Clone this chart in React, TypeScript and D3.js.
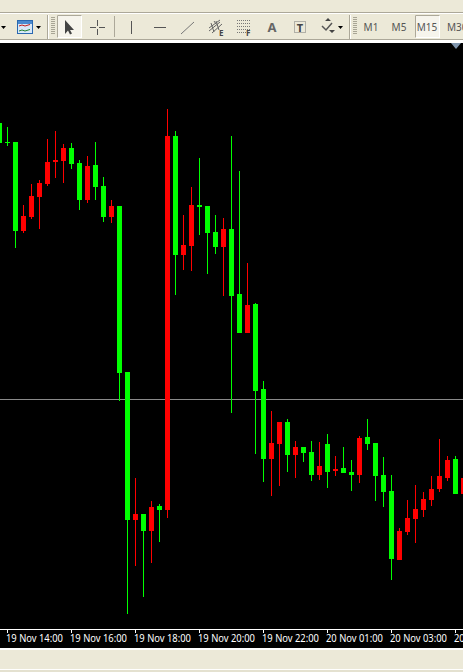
import React from "react";
import * as d3 from "d3";

const W = 463;
const H = 672;

// Price readings in chart units (larger is higher on the chart).
const opens = [549,530,530,441,455,475,488,510,511,524,509,472,507,486,455,466,300,152,158,141,166,162,536,417,426,467,466,440,425,443,378,339,368,283,213,228,250,217,225,220,197,228,201,204,200,197,235,229,197,181,112,140,153,162,172,183,194,213,178];
const closes = [529,529,441,456,476,489,510,512,524,508,472,506,485,455,466,299,152,158,141,165,162,536,417,427,467,465,439,425,443,376,339,367,281,213,229,250,217,225,219,197,206,200,203,199,197,234,228,196,180,113,141,154,163,173,183,196,212,178,194];
const highs = [549,545,530,467,488,492,533,541,528,529,512,516,530,495,472,466,300,194,158,171,168,563,541,457,485,514,466,457,454,536,501,409,369,291,261,250,253,231,225,231,230,238,216,225,212,236,253,229,215,197,144,172,187,180,196,233,216,216,194];
const lows = [529,526,424,439,453,443,486,494,489,503,462,469,472,450,449,271,58,106,75,109,130,154,377,402,401,437,398,418,376,259,339,339,218,190,176,186,200,194,210,191,192,184,196,199,181,189,222,171,165,92,112,137,129,155,166,180,191,178,178];

const axisLabels = ["19 Nov 14:00","19 Nov 16:00","19 Nov 18:00","19 Nov 20:00","19 Nov 22:00","20 Nov 01:00","20 Nov 03:00","20 Nov 05:00"];
const periods = ["M1","M5","M15","M30"];
const periodX = [371,399,427,447];
const bidLevel = 272.5;

const x = d3.scaleLinear().domain([0, 1]).range([-0.5, 7.5]);
const y = d3.scaleLinear().domain([0, 672]).range([672, 0]);
const tickIndex = axisLabels.map((_, k) => 1 + 8 * k);

const UI = "Tahoma, 'Noto Sans', 'DejaVu Sans', sans-serif";
const BG = "#ece9d8";

function Grip({ gx }: { gx: number }) {
  return <g>{d3.range(0, 9).map((i) => <rect key={i} x={gx} y={17 + i * 2} width={4} height={1} fill="#a8a595" />)}</g>;
}

function Toolbar() {
  return (
    <g>
      <rect x={0} y={0} width={W} height={40} fill={BG} />
      <rect x={0} y={12} width={W} height={1} fill="#aca899" />
      <rect x={0} y={13} width={W} height={1} fill="#ffffff" />
      <rect x={0} y={39} width={W} height={1} fill="#aca899" />
      <rect x={0} y={40} width={W} height={3} fill="#ffffff" />
      <path d="M1 26h5l-2.500 3z" fill="#000" />
      <rect x={17.500} y={20.500} width={15} height={13} fill="#d8e8f8" stroke="#2a68b0" />
      <rect x={18} y={21} width={14} height={3} fill="#4a8ad0" />
      <path d="M19 26l3-1 3 1 5-1.500" fill="none" stroke="#c02020" />
      <path d="M19 31l3-1 3 1 5-1.500" fill="none" stroke="#208030" />
      <path d="M36 26h5l-2.500 3z" fill="#000" />
      <rect x={47} y={15} width={1} height={24} fill="#aca899" />
      <rect x={48} y={15} width={1} height={24} fill="#fff" />
      <Grip gx={51} />
      <rect x={57.500} y={15.500} width={24} height={22} fill="#f6f4ec" stroke="#fff" />
      <path d="M57.500 37.500V15.500H81.500" fill="none" stroke="#aca899" />
      <path d="M65 20v14l3-3.500 2 4 2-1-2-3.500h4z" fill="#444" />
      <path d="M90 27.500h6M99 27.500h6M97.500 20v6M97.500 29v6" stroke="#555" />
      <rect x={114} y={16} width={1} height={21} fill="#aca899" />
      <path d="M131.500 21v13" stroke="#555" />
      <path d="M154 27.500h12" stroke="#555" />
      <path d="M181 34l13-12" stroke="#777" />
      <path d="M209 31l11-9M209 28l11-8M212 33l10-9M214 21l2 3M211 23l3 9M216 21l3 9" stroke="#666" fill="none" />
      <text x={219} y={36} fontFamily={UI} fontSize={8} fontWeight={700} fill="#444">E</text>
      <path d="M237 20.500h13M237 23.500h13M237 26.500h13M237 29.500h13M237 32.500h9" stroke="#777" strokeDasharray="1 1" />
      <text x={246} y={36} fontFamily={UI} fontSize={8} fontWeight={700} fill="#444">F</text>
      <text x={272} y={32} textAnchor="middle" fontFamily={UI} fontSize={13} fontWeight={700} fill="#666">A</text>
      <rect x={294.500} y={21.500} width={11} height={11} fill="none" stroke="#777" strokeDasharray="1 1" />
      <text x={300} y={32} textAnchor="middle" fontFamily={UI} fontSize={11} fontWeight={700} fill="#444">T</text>
      <path d="M325 21l3-3 3 3zM332 33l3-3h-6z" fill="#444" />
      <path d="M322 26l4 4 6-7" fill="none" stroke="#555" strokeWidth={1.500} />
      <path d="M338 26h5l-2.500 3z" fill="#000" />
      <rect x={349} y={15} width={1} height={24} fill="#aca899" />
      <rect x={350} y={15} width={1} height={24} fill="#fff" />
      <Grip gx={353} />
      <rect x={415.500} y={15.500} width={24} height={22} fill="#f6f4ec" stroke="#fff" />
      <path d="M415.500 37.500V15.500H439.500" fill="none" stroke="#aca899" />
      {periods.map((p, i) => (
        <text key={p} x={periodX[i]} y={31} textAnchor={i === 3 ? "start" : "middle"} fontFamily={UI} fontSize={10} fill="#555">{p}</text>
      ))}
    </g>
  );
}

export default function App() {
  return (
    <svg width={W} height={H} viewBox={`0 0 ${W} ${H}`} style={{ position: "fixed", left: 0, top: 0, display: "block" }}>
      <rect x={0} y={0} width={W} height={H} fill={BG} />
      <Toolbar />
      <rect x={0} y={43} width={W} height={605} fill="#000" />
      <path d="M451 43h10l-5 6z" fill="#7f95ad" />
      <rect x={0} y={y(bidLevel) - 0.500} width={W} height={1} fill="#8a8a8a" />
      {opens.map((o, i) => {
        const c = closes[i];
        const color = c <= o ? "#00ff00" : "#ff0000";
        const top = y(Math.max(o, c));
        const bottom = y(Math.min(o, c));
        const cx = x(i);
        return (
          <g key={i}>
            <rect x={cx - 0.500} y={y(highs[i])} width={1} height={y(lows[i]) - y(highs[i])} fill={color} />
            <rect x={cx - 2.500} y={top} width={5} height={Math.max(1, bottom - top)} fill={color} />
          </g>
        );
      })}
      <rect x={0} y={629} width={W} height={1} fill="#fff" />
      {axisLabels.map((t, k) => {
        const tx = x(tickIndex[k]);
        return (
          <g key={t}>
            <rect x={tx - 0.500} y={630} width={1} height={3} fill="#fff" />
            <text x={tx - 1.500} y={642} textLength={57} lengthAdjust="spacingAndGlyphs" fontFamily={UI} fontSize={10.500} fill="#fff">{t}</text>
          </g>
        );
      })}
      <rect x={0} y={648} width={W} height={2} fill="#fff" />
      <rect x={0} y={669} width={W} height={1} fill="#fff" />
      <rect x={0} y={670} width={W} height={2} fill="#e4e1d0" />
    </svg>
  );
}
